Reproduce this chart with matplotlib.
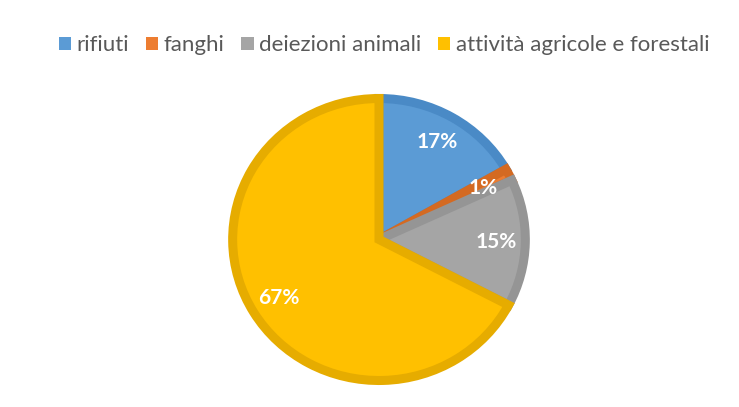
# ───────────────────────── Imports ─────────────────────────
import matplotlib.pyplot as plt
from matplotlib.patches import Patch

# ───────────────────────── Data ─────────────────────────
categories = ["rifiuti", "fanghi", "deiezioni animali", "attività agricole e forestali"]
shares = [16.7, 1.4, 14.6, 67.3]
fill_colors = ["#5B9BD5", "#ED7D31", "#A5A5A5", "#FFC000"]
edge_colors = ["#4A8AC6", "#D46A22", "#959595", "#E6AC00"]

plt.rcParams["font.family"] = ["Lato", "DejaVu Sans"]

# ───────────────────────── Figure ─────────────────────────
W, H = 739, 407
sx = 145.5 / 151  # reference pie is slightly wider than tall

fig = plt.figure(figsize=(W / 100, H / 100), dpi=100)
ax = fig.add_axes([0, 0, 1, 1])

wedges, texts, autotexts = ax.pie(
    shares,
    colors=fill_colors,
    startangle=90,
    counterclock=False,
    center=(379 * sx, H - 239.5),
    radius=141,
    autopct="%.0f%%",
    pctdistance=0.80,
    frame=True,
    wedgeprops=dict(linewidth=6.5, joinstyle="miter"),
)
for w, ec in zip(wedges, edge_colors):
    w.set_edgecolor(ec)
for t in autotexts:
    t.set_color("white")
    t.set_fontsize(15)
    t.set_fontweight("bold")

ax.set_xlim(0, W * sx)
ax.set_ylim(0, H)
ax.set_aspect("auto")
ax.axis("off")

handles = [Patch(facecolor=c, edgecolor="none") for c in fill_colors]
fig.legend(
    handles, categories,
    loc="center", bbox_to_anchor=(0.52, 0.889),
    ncol=4, frameon=False, fontsize=16,
    handlelength=0.55, handleheight=0.55, handletextpad=0.25,
    columnspacing=0.75, labelcolor="#595959",
)

fig.savefig("out.png", dpi=100)
